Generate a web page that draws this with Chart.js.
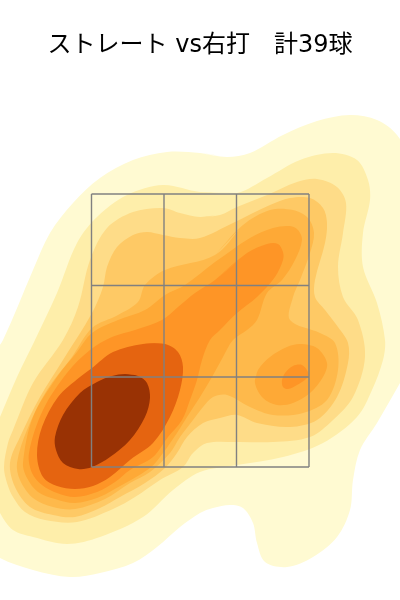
<!DOCTYPE html>
<html>
<head>
<meta charset="utf-8">
<script src="https://cdn.jsdelivr.net/npm/chart.js@4"></script>
<style>
body { margin: 0; background: #fff; }
canvas { display: block; }
</style>
</head>
<body>
<canvas id="kde" width="400" height="600"></canvas>
<script>
const titleText = "ストレート vs右打　計39球";

// density bands, outermost first
const band1 = [[200,153],[227,157],[250,153],[283,135],[317,121],[350,115],[377,120],[397,135],[415,170],[425,300],[410,365],[400,383],[377,423],[360,450],[353,480],[350,510],[337,537],[313,557],[287,567],[265,562],[257,543],[253,523],[243,508],[230,505],[213,508],[200,513],[180,527],[157,547],[133,563],[100,573],[70,577],[33,570],[0,558],[-15,545],[-20,450],[-10,360],[3,340],[33,270],[50,233],[73,203],[100,178],[133,160],[167,152],[200,153]];
const band2 = [[200,192],[237,193],[267,178],[300,160],[333,153],[357,160],[368,180],[370,200],[363,233],[363,267],[377,303],[385,340],[383,360],[372,390],[357,417],[323,443],[283,457],[237,465],[200,472],[173,490],[143,517],[100,537],[67,544],[33,537],[13,530],[0,513],[-10,490],[-10,440],[0,417],[17,377],[35,340],[57,293],[77,243],[97,217],[127,195],[163,185],[200,192]];
const band3 = [[200,217],[220,215],[237,207],[267,195],[297,182],[317,179],[337,187],[346,203],[343,233],[338,267],[343,297],[358,320],[365,357],[353,397],[333,420],[310,437],[273,442],[237,442],[207,443],[193,453],[183,467],[160,480],[135,497],[113,509],[77,522],[45,520],[25,512],[13,497],[7,483],[4,467],[8,443],[13,430],[33,383],[63,340],[78,307],[90,260],[107,228],[133,212],[163,208],[180,213],[200,217]];
const band4 = [[200,238],[233,223],[270,205],[290,198],[310,198],[323,208],[327,223],[325,243],[315,280],[315,297],[325,310],[338,327],[348,343],[348,363],[337,397],[317,420],[290,427],[257,423],[237,415],[220,418],[203,423],[187,437],[177,453],[165,468],[145,483],[120,497],[100,508],[75,517],[53,515],[30,507],[15,487],[10,463],[20,437],[40,397],[63,360],[92,313],[103,287],[107,267],[117,247],[133,235],[147,232],[163,235],[180,238],[200,238]];
const band5 = [[215,255],[243,225],[270,210],[293,210],[308,218],[314,233],[310,253],[300,280],[293,297],[290,320],[320,333],[335,343],[338,370],[327,400],[303,413],[273,415],[250,407],[227,395],[213,397],[203,407],[193,420],[180,437],[170,453],[150,472],[130,483],[105,499],[75,509],[53,507],[33,498],[20,480],[17,463],[27,430],[47,390],[72,357],[92,328],[118,315],[138,302],[145,285],[165,270],[215,255]];
const band6 = [[215,262],[250,238],[273,228],[290,226],[298,230],[302,240],[295,260],[282,280],[267,293],[257,320],[247,330],[233,340],[223,357],[212,377],[200,397],[187,417],[177,433],[163,453],[150,468],[113,490],[97,498],[75,503],[55,499],[38,492],[27,478],[23,463],[33,417],[57,377],[77,352],[92,333],[118,320],[145,310],[165,295],[185,285],[215,262]];
const band6b = [[255,383],[258,370],[270,357],[287,347],[300,344],[317,348],[327,363],[323,377],[310,393],[293,403],[277,405],[263,398],[255,383]];
const band7 = [[215,280],[247,253],[267,244],[278,244],[283,252],[283,260],[275,277],[257,297],[237,313],[220,330],[210,340],[202,360],[197,380],[190,400],[182,420],[168,437],[153,457],[130,470],[115,482],[97,492],[75,497],[57,493],[42,485],[32,473],[29,453],[43,410],[67,373],[90,350],[112,337],[135,330],[162,320],[178,307],[195,293],[215,280]];
const band7b = [[282,380],[285,373],[293,366],[302,365],[308,372],[307,378],[297,385],[288,389],[283,387],[282,380]];
const band8 = [[143,344],[165,344],[178,352],[183,367],[180,390],[170,417],[153,443],[130,460],[110,477],[93,486],[75,489],[57,486],[43,477],[37,455],[42,427],[58,397],[80,377],[92,368],[113,352],[143,344]];
const band9 = [[125,374],[138,376],[147,383],[150,398],[145,417],[130,440],[110,457],[92,467],[78,469],[63,463],[56,450],[55,437],[63,415],[80,393],[97,382],[112,376],[125,374]];

const bands = [band1, band2, band3, band4, band5, band6, band6b, band7, band7b, band8, band9];
const bandColors = ["#fffad2", "#feeeaa", "#fedc88", "#fec965", "#feb94b", "#fea936", "#fea936", "#fe9526", "#fe9526", "#e56410", "#993204"];

// strike zone lines
const zoneX = [91.5, 164, 236.5, 309];
const zoneY = [194, 285.5, 377, 467];

const datasets = [];
bands.forEach((band, i) => {
    // run one point past the start so the join stays smooth
    const loop = band.concat([band[1]]);
    datasets.push({
        data: loop.map(p => ({ x: p[0], y: p[1] })),
        showLine: true,
        fill: 'shape',
        tension: 0.33,
        borderWidth: 0,
        pointRadius: 0,
        backgroundColor: bandColors[i],
        borderColor: bandColors[i],
        order: bands.length - i + 1
    });
});

function addZoneLine(points) {
    datasets.push({
        data: points,
        showLine: true,
        fill: false,
        borderWidth: 1.4,
        borderColor: '#808080',
        pointRadius: 0,
        order: 0
    });
}

zoneX.forEach(x => addZoneLine([{ x: x, y: zoneY[0] }, { x: x, y: zoneY[3] }]));
zoneY.forEach(y => addZoneLine([{ x: zoneX[0], y: y }, { x: zoneX[3], y: y }]));

const ctx = document.getElementById('kde').getContext('2d');
new Chart(ctx, {
    type: 'scatter',
    data: { datasets: datasets },
    options: {
        responsive: false,
        animation: false,
        layout: { padding: 0 },
        plugins: {
            legend: { display: false },
            tooltip: { enabled: false },
            title: {
                display: true,
                text: titleText,
                color: '#000',
                font: { family: '"DejaVu Sans", "Noto Sans CJK JP"', size: 24, weight: 'normal', lineHeight: 1.2 },
                padding: { top: 31, bottom: 10.2 }
            }
        },
        scales: {
            x: { type: 'linear', display: false, min: 0, max: 400 },
            y: { type: 'linear', display: false, min: 70, max: 600, reverse: true }
        }
    }
});
</script>
</body>
</html>
